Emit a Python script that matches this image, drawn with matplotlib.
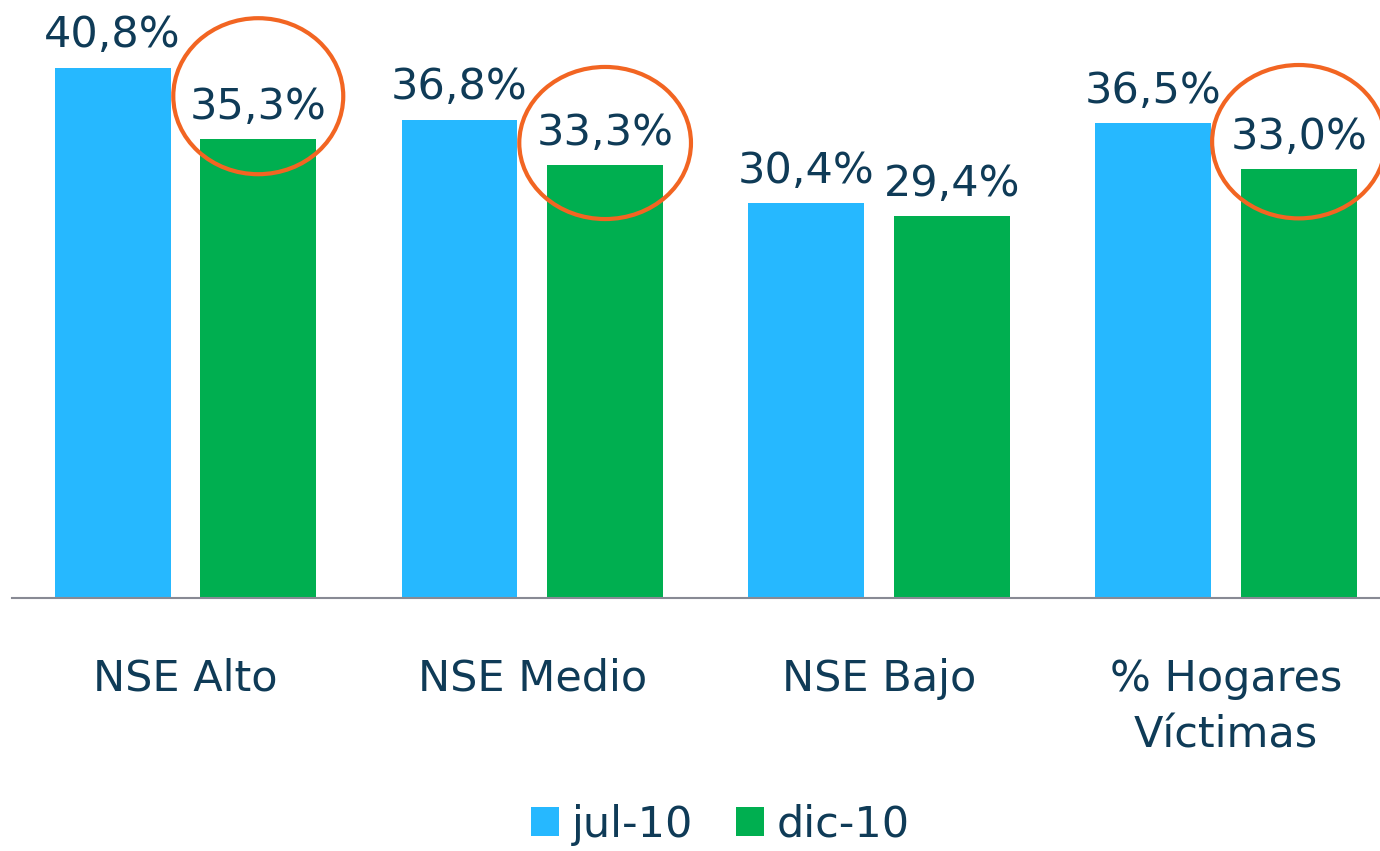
import matplotlib.pyplot as plt
import numpy as np
from matplotlib.patches import Ellipse

# datos
categorias = ['NSE Alto', 'NSE Medio', 'NSE Bajo', '% Hogares\nVíctimas']
jul_10 = [40.8, 36.8, 30.4, 36.5]
dic_10 = [35.3, 33.3, 29.4, 33.0]
series = ['jul-10', 'dic-10']

# círculos de resaltado (índice de categoría, centro y, ancho, alto)
resaltados = [(0, 38.6, 0.49, 12.0), (1, 35.0, 0.495, 11.7), (3, 35.1, 0.50, 11.8)]

azul = '#26B8FF'
verde = '#00AF50'
naranja = '#F26522'
texto = '#0F3B57'

plt.rcParams['font.family'] = ['DejaVu Sans']

fig = plt.figure(figsize=(13.8, 8.51), dpi=100)
ax = fig.add_axes([0.0087, 0.2973, 1 - 0.0087, 0.7027])

x = np.arange(len(categorias))
ancho = 0.334
off = 0.21
b1 = ax.bar(x - off, jul_10, ancho, color=azul, label=series[0])
b2 = ax.bar(x + off, dic_10, ancho, color=verde, label=series[1])

for barras, vals in [(b1, jul_10), (b2, dic_10)]:
    for b, v in zip(barras, vals):
        ax.annotate(f'{v:.1f}%'.replace('.', ','), (b.get_x() + b.get_width() / 2, v),
                    xytext=(0, 8), textcoords='offset points', ha='center', va='bottom',
                    fontsize=31, color=texto)

for i, cy, w, h in resaltados:
    ax.add_patch(Ellipse((i + off, cy), w, h, fill=False, edgecolor=naranja,
                         linewidth=3, clip_on=False, zorder=5))

ax.set_xlim(-0.5, 3.444)
ax.set_ylim(0, 46)
ax.set_xticks(x)
ax.set_xticklabels(categorias, fontsize=31, color=texto, linespacing=1.45)
ax.tick_params(axis='x', length=0, pad=43)
ax.set_yticks([])
for s in ['top', 'left', 'right']:
    ax.spines[s].set_visible(False)
ax.spines['bottom'].set_color('#888A94')
ax.spines['bottom'].set_linewidth(1.5)

fig.legend(loc='center', bbox_to_anchor=(0.522, 0.031), ncol=2, frameon=False,
           fontsize=31, labelcolor=texto, handlelength=0.65, handleheight=0.65,
           handletextpad=0.3, columnspacing=1.0)

fig.savefig('out.png', dpi=100)
